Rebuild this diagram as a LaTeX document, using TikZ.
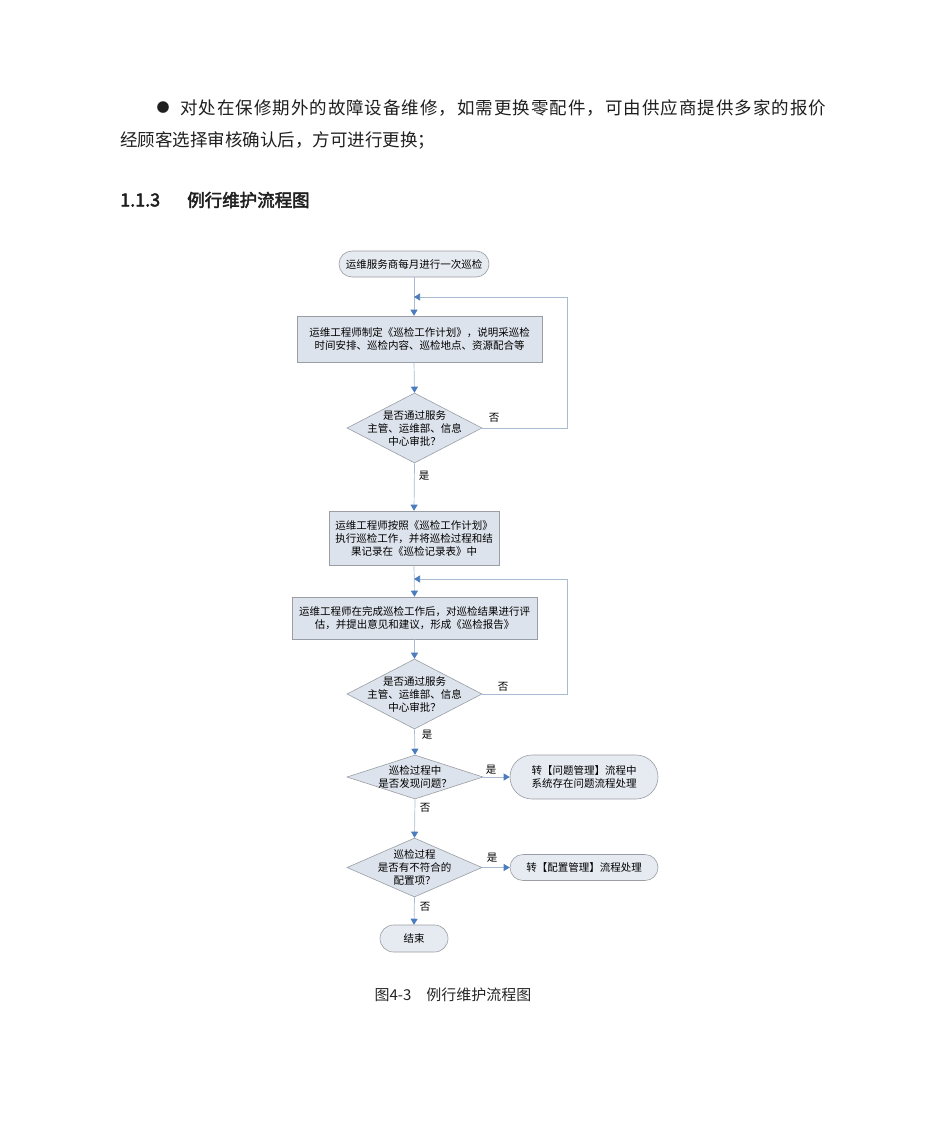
\documentclass[tikz,border=0pt]{standalone}
\usepackage{fontspec}
\setmainfont{Noto Sans CJK SC}[AutoFakeBold=2.5]
\usetikzlibrary{arrows.meta,shapes.geometric,shapes.misc}
\definecolor{procfill}{HTML}{DDE3EC}
\definecolor{termfill}{HTML}{E6EAF1}
\definecolor{edgegray}{HTML}{9A9EA4}
\definecolor{connc}{HTML}{A8BBD3}
\definecolor{arrowc}{HTML}{4A7CBE}
\newcommand\chartfs{\fontsize{10.5}{13}\selectfont}
\begin{document}
\begin{tikzpicture}[x=1pt,y=-1pt,
  proc/.style={rectangle, draw=edgegray, fill=procfill, line width=0.6pt, inner sep=0pt, align=center, font=\chartfs},
  term/.style={rounded rectangle, draw=edgegray, fill=termfill, line width=0.6pt, inner sep=0pt, align=center, font=\chartfs},
  dec/.style={diamond, draw=edgegray, fill=procfill, line width=0.6pt, inner sep=0pt},
  dectext/.style={align=center, font=\chartfs, inner sep=0pt},
  conn/.style={draw=connc, line width=0.7pt, -{Triangle[length=6pt,width=7pt,color=arrowc]}},
  lab/.style={font=\chartfs, inner sep=0pt},
  body/.style={font=\fontsize{17.5}{20}\selectfont, inner sep=0pt, text=black!88}
]
\path[use as bounding box, fill=white] (0,0) rectangle (950,1129);

% paragraph and heading
\node[body, anchor=center] (bul) at (163,108) {\fontsize{13}{13}\selectfont ●};
\node[body, anchor=west] (l1) at (180,108) {\addfontfeature{LetterSpace=5.6}对处在保修期外的故障设备维修，如需更换零配件，可由供应商提供多家的报价};
\node[body, anchor=west] (l2) at (120,140) {经顾客选择审核确认后，方可进行更换；};
\node[body, anchor=west, font=\fontsize{18}{20}\selectfont\bfseries] (h1) at (120,200) {1.1.3};
\node[body, anchor=west, font=\fontsize{17.5}{20}\selectfont\bfseries] (h2) at (187,200) {例行维护流程图};

% flowchart nodes
\node[term, minimum width=150pt, minimum height=26pt] (s) at (414,264) {运维服务商每月进行一次巡检};
\node[proc, minimum width=245pt, minimum height=46pt] (p1) at (419.5,339) {运维工程师制定《巡检工作计划》，说明采巡检\\时间安排、巡检内容、巡检地点、资源配合等};
\node[dec, minimum width=135pt, minimum height=70pt] (d1) at (414.5,428) {};
\node[dectext] (t1) at (d1) {是否通过服务\\主管、运维部、信息\\中心审批？};
\node[proc, minimum width=170pt, minimum height=54pt] (p2) at (414,538) {运维工程师按照《巡检工作计划》\\执行巡检工作，并将巡检过程和结\\果记录在《巡检记录表》中};
\node[proc, minimum width=245pt, minimum height=42pt] (p3) at (414.5,618) {运维工程师在完成巡检工作后，对巡检结果进行评\\估，并提出意见和建议，形成《巡检报告》};
\node[dec, minimum width=135pt, minimum height=70pt] (d2) at (414.5,694) {};
\node[dectext] (t2) at (d2) {是否通过服务\\主管、运维部、信息\\中心审批？};
\node[dec, minimum width=136pt, minimum height=44pt] (d3) at (415,777) {};
\node[dectext] (t3) at (d3) {巡检过程中\\是否发现问题？};
\node[term, minimum width=148pt, minimum height=44pt] (r3) at (584,777) {转【问题管理】流程中\\系统存在问题流程处理};
\node[dec, minimum width=135pt, minimum height=59pt] (d4) at (414.5,867.5) {};
\node[dectext] (t4) at (d4) {巡检过程\\是否有不符合的\\配置项？};
\node[term, minimum width=148pt, minimum height=26pt] (r4) at (584,867.5) {转【配置管理】流程处理};
\node[term, minimum width=68pt, minimum height=27pt] (e) at (414,938.5) {结束};

% junctions
\coordinate (j1) at (414,297);
\coordinate (j2) at (414,579);
\coordinate (rx) at (567,0);

% connectors
\draw[conn] (s.south) -- (s.south |- p1.north);
\draw[conn] (s.south |- p1.south) -- (d1.north);
\draw[conn] (d1.east) -- (d1.east -| rx) |- (j1);
\draw[conn] (d1.south) -- (p2.north);
\draw[conn] (p2.south) -- (p3.north);
\draw[conn] (d2.east) -- (d2.east -| rx) |- (j2);
\draw[conn] (p3.south) -- (d2.north);
\draw[conn] (d2.south) -- (d3.north);
\draw[conn] (d3.east) -- (r3.west);
\draw[conn] (d3.south) -- (d4.north);
\draw[conn] (d4.east) -- (r4.west);
\draw[conn] (d4.south) -- (e.north);

% edge labels
\node[lab] (n1) at (494,418) {否};
\node[lab] (y1) at (424,476) {是};
\node[lab] (n2) at (503,687) {否};
\node[lab] (y2) at (427,735) {是};
\node[lab] (y3) at (491,770) {是};
\node[lab] (n3) at (425,808) {否};
\node[lab] (y4) at (492,858) {是};
\node[lab] (n4) at (425,907) {否};

% caption
\node[inner sep=0pt, font=\fontsize{15}{16}\selectfont, text=black!85] (cap) at (453,995) {图4-3\hspace{1em}例行维护流程图};
\end{tikzpicture}
\end{document}
